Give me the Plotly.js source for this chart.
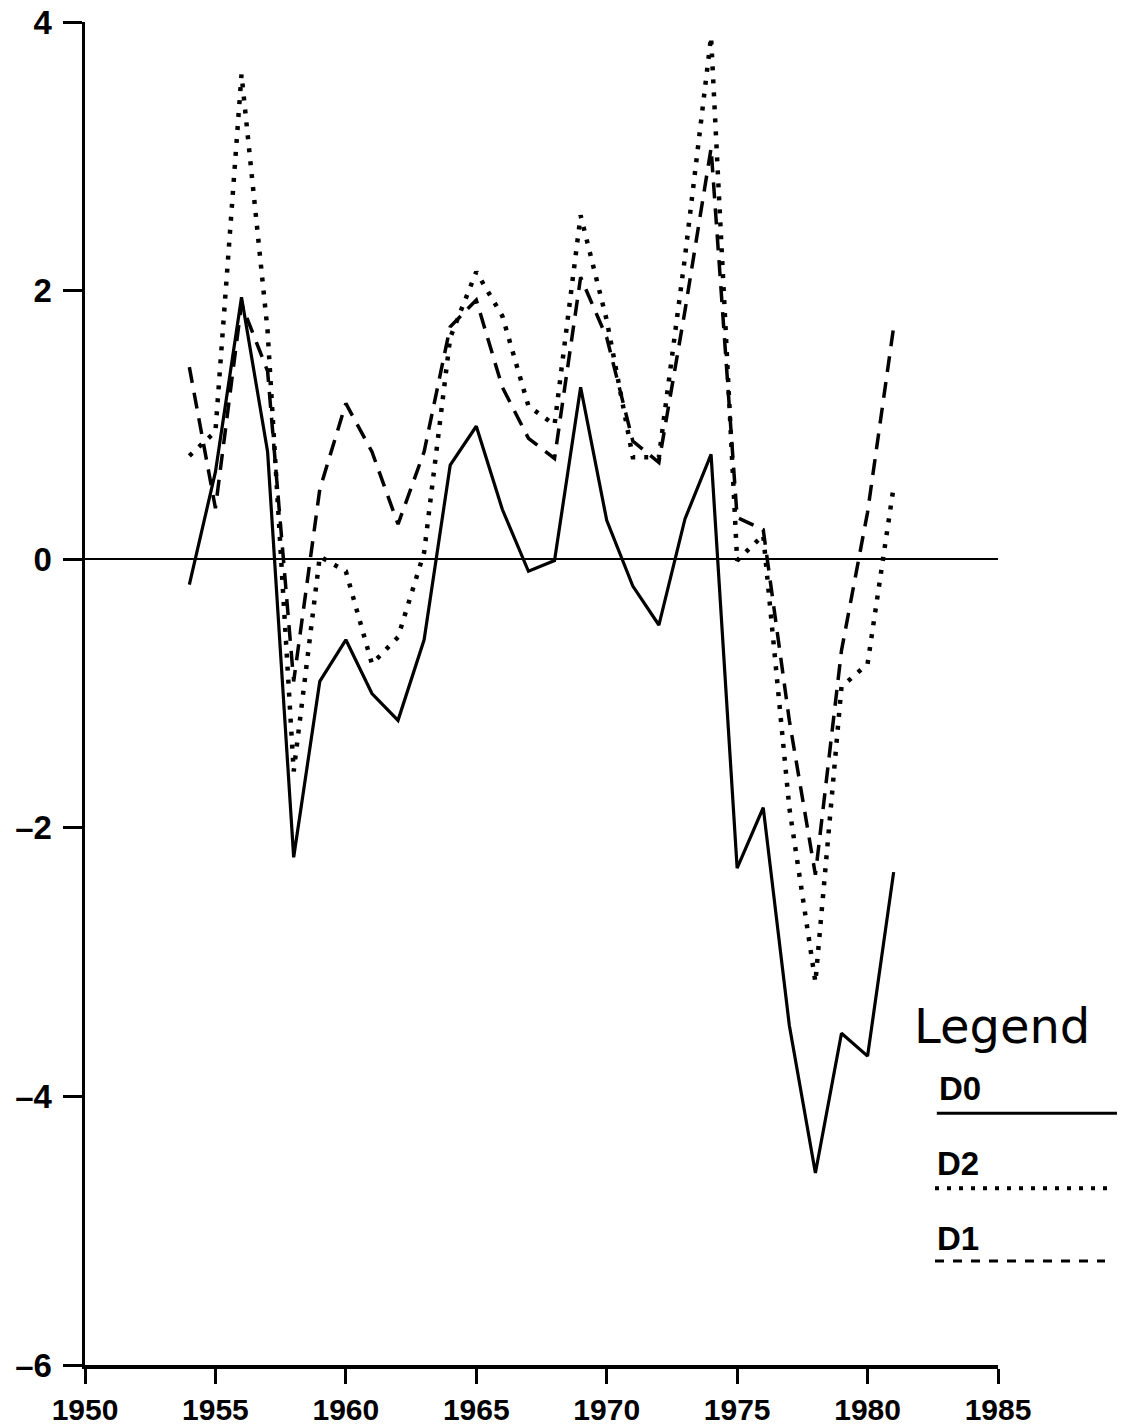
<!DOCTYPE html>
<html>
<head>
<meta charset="utf-8">
<script src="https://cdn.plot.ly/plotly-3.0.1.min.js"></script>
<style>
html,body{margin:0;padding:0;background:#fff;}
#chart{width:1122px;height:1427px;}
</style>
</head>
<body>
<div id="chart"></div>
<script>
// ---- data ----
var years = [1954,1955,1956,1957,1958,1959,1960,1961,1962,1963,1964,1965,1966,1967,
             1968,1969,1970,1971,1972,1973,1974,1975,1976,1977,1978,1979,1980,1981];
var d0 = [-0.19,0.65,1.95,0.80,-2.22,-0.91,-0.60,-1.00,-1.20,-0.60,0.70,0.99,0.37,-0.09,
          -0.01,1.28,0.29,-0.20,-0.49,0.30,0.78,-2.30,-1.85,-3.47,-4.57,-3.53,-3.70,-2.33];
var d2 = [0.77,0.95,3.61,1.70,-1.58,0.02,-0.09,-0.78,-0.58,0.05,1.65,2.14,1.81,1.14,
          1.00,2.56,1.78,0.76,0.76,2.25,3.89,-0.01,0.18,-1.85,-3.15,-0.95,-0.78,0.54];
var d1 = [1.43,0.38,1.90,1.40,-0.91,0.52,1.16,0.80,0.26,0.80,1.73,1.93,1.28,0.90,
          0.75,2.10,1.65,0.88,0.72,1.85,3.06,0.31,0.22,-1.20,-2.35,-0.68,0.35,1.73];
var xTicks = [1950,1955,1960,1965,1970,1975,1980,1985];
var yTicks = [-6,-4,-2,0,2,4];
var seriesNames = ['D0','D2','D1'];
var legendTitle = 'Legend';

var xTickFont = {family:'Liberation Sans, Arial, DejaVu Sans', size:30, weight:'bold', color:'#000'};
var yTickFont = {family:'Liberation Sans, Arial, DejaVu Sans', size:33, weight:'bold', color:'#000'};

var traces = [
  {x:years, y:d0, name:seriesNames[0], type:'scatter', mode:'lines', showlegend:false,
   line:{color:'#000', width:3.2}},
  {x:years, y:d2, name:seriesNames[1], type:'scatter', mode:'lines', showlegend:false,
   line:{color:'#000', width:4.5, dash:'4px,9px'}},
  {x:years, y:d1, name:seriesNames[2], type:'scatter', mode:'lines', showlegend:false,
   line:{color:'#000', width:3.5, dash:'16px,10px'}}
];

// custom legend (label above sample line)
var legendX = [0.933, 0.931, 0.931];
var legendLabelY = [0.2061, 0.1503, 0.0945];
var legendLineY = [0.1875, 0.1317, 0.0774];
var legendLineX1 = [1.1303, 1.1238, 1.1172];
var legendDash = ['solid','4px,8px','9px,9px'];
var legendWidth = [3, 4, 3];

var annotations = [{
  xref:'paper', yref:'paper', x:0.906, y:0.2522, xanchor:'left', yanchor:'middle',
  text:legendTitle, showarrow:false,
  font:{family:'DejaVu Sans', size:48, color:'#000'}
}];
var shapes = [];
for (var i=0;i<3;i++){
  annotations.push({xref:'paper', yref:'paper', x:legendX[i], y:legendLabelY[i],
    xanchor:'left', yanchor:'middle', text:seriesNames[i], showarrow:false,
    font:{family:'Liberation Sans, Arial, DejaVu Sans', size:33, weight:'bold', color:'#000'}});
  shapes.push({type:'line', xref:'paper', yref:'paper', x0:legendX[i], x1:legendLineX1[i],
    y0:legendLineY[i], y1:legendLineY[i], line:{color:'#000', width:legendWidth[i], dash:legendDash[i]}});
}

var layout = {
  width:1122, height:1427,
  margin:{l:85, r:124, t:22, b:62, pad:0},
  paper_bgcolor:'#fff', plot_bgcolor:'#fff',
  showlegend:false,
  xaxis:{range:[1950,1985], tickvals:xTicks, ticktext:xTicks.map(String),
    showgrid:false, zeroline:false, showline:true, linecolor:'#000', linewidth:3.5,
    ticks:'outside', ticklen:15, tickwidth:3, tickcolor:'#000',
    tickfont:xTickFont, ticklabelstandoff:0},
  yaxis:{range:[-6,4], tickvals:yTicks, ticktext:yTicks.map(function(v){return v<0?'\u2013'+Math.abs(v):String(v);}),
    showgrid:false, zeroline:true, zerolinecolor:'#000', zerolinewidth:2.5,
    showline:true, linecolor:'#000', linewidth:3.5,
    ticks:'outside', ticklen:19, tickwidth:3, tickcolor:'#000',
    tickfont:yTickFont, ticklabelstandoff:4},
  annotations:annotations,
  shapes:shapes
};

Plotly.newPlot('chart', traces, layout, {staticPlot:true, displayModeBar:false});
</script>
</body>
</html>
